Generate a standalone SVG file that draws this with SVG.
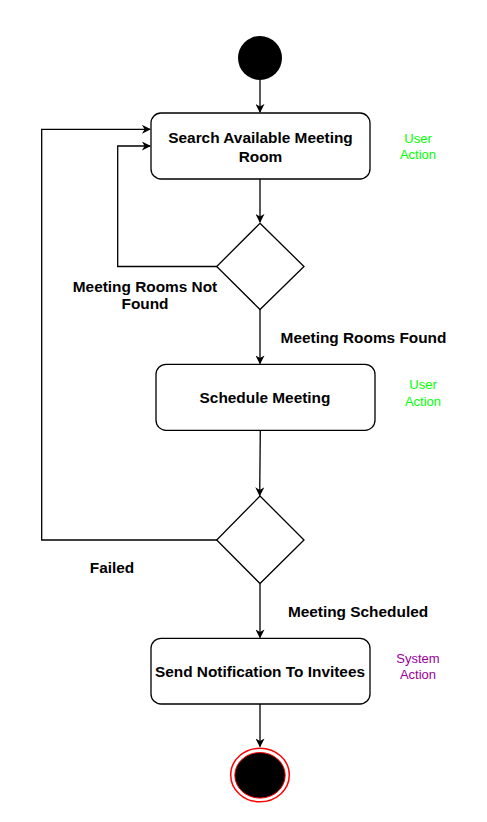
<svg xmlns="http://www.w3.org/2000/svg" width="487" height="822" viewBox="0 0 487 822">
<style>
.box{fill:#fff;stroke:#000;stroke-width:1.3}
.edge{fill:none;stroke:#000;stroke-width:1.3}
.lbl{font-family:"Liberation Sans",Arial,sans-serif;font-weight:bold;font-size:15.4px;fill:#000;text-anchor:middle;dominant-baseline:central}
.note{font-family:"Liberation Sans",Arial,sans-serif;font-size:13px;text-anchor:middle;dominant-baseline:central}
</style>
<defs>
<marker id="arr" viewBox="0 0 10 10" refX="9" refY="5" markerWidth="9" markerHeight="9" markerUnits="userSpaceOnUse" orient="auto">
<path d="M0,0 L10,5 L0,10 L3,5 Z" fill="#000"/>
</marker>
</defs>
<rect width="487" height="822" fill="#fff"/>
<g id="connectors">
<path class="edge" d="M260,80 L260,112" marker-end="url(#arr)"/>
<path class="edge" d="M260,179 L260,222" marker-end="url(#arr)"/>
<path class="edge" d="M217,266.5 L117.7,266.5 L117.7,146 L150,146" marker-end="url(#arr)"/>
<path class="edge" d="M260,309.5 L260,363.5" marker-end="url(#arr)"/>
<path class="edge" d="M260.3,430 L259.7,495.5" marker-end="url(#arr)"/>
<path class="edge" d="M217,540 L41.7,540 L41.7,129.3 L150,129.3" marker-end="url(#arr)"/>
<path class="edge" d="M260,583.5 L260,637.5" marker-end="url(#arr)"/>
<path class="edge" d="M260,704 L260,746.5" marker-end="url(#arr)"/>
</g>
<g id="start"><circle cx="260" cy="58" r="22" fill="#000"/></g>
<g id="search">
<rect class="box" x="151" y="113" width="219" height="66" rx="10"/>
<text class="lbl" x="260.5" y="137.3">Search Available Meeting</text>
<text class="lbl" x="260.5" y="156">Room</text>
</g>
<g id="note1"><text class="note" fill="#00ff00"><tspan x="418" y="137.5">User</tspan><tspan x="418" y="154">Action</tspan></text></g>
<g id="decision1">
<path class="box" d="M260,223.3 L304,266.5 L260,309.5 L216.7,266.5 Z"/>
</g>
<g id="label-notfound"><text class="lbl"><tspan x="145" y="285.7">Meeting Rooms Not</tspan><tspan x="145" y="303.3">Found</tspan></text></g>
<g id="label-found"><text class="lbl" x="363.5" y="337.3">Meeting Rooms Found</text></g>
<g id="schedule">
<rect class="box" x="156" y="364.3" width="219" height="66" rx="10"/>
<text class="lbl" x="265" y="397.7">Schedule Meeting</text>
</g>
<g id="note2"><text class="note" fill="#00ff00"><tspan x="423" y="384">User</tspan><tspan x="423" y="400.7">Action</tspan></text></g>
<g id="decision2">
<path class="box" d="M260,496 L304,540 L260,583.5 L216.7,540 Z"/>
</g>
<g id="label-failed"><text class="lbl" x="112" y="567">Failed</text></g>
<g id="label-scheduled"><text class="lbl" x="358" y="611">Meeting Scheduled</text></g>
<g id="notify">
<rect class="box" x="151" y="638.3" width="219" height="65.7" rx="10"/>
<text class="lbl" x="260" y="671">Send Notification To Invitees</text>
</g>
<g id="note3"><text class="note" fill="#990099"><tspan x="418" y="657.7">System</tspan><tspan x="418" y="674">Action</tspan></text></g>
<g id="end">
<ellipse cx="260" cy="775" rx="29.3" ry="26.8" fill="#fff" stroke="#ff0000" stroke-width="1.5"/>
<ellipse cx="260" cy="775.3" rx="25.2" ry="22.8" fill="#000" stroke="#ff0000" stroke-width="1"/>
</g>
</svg>
